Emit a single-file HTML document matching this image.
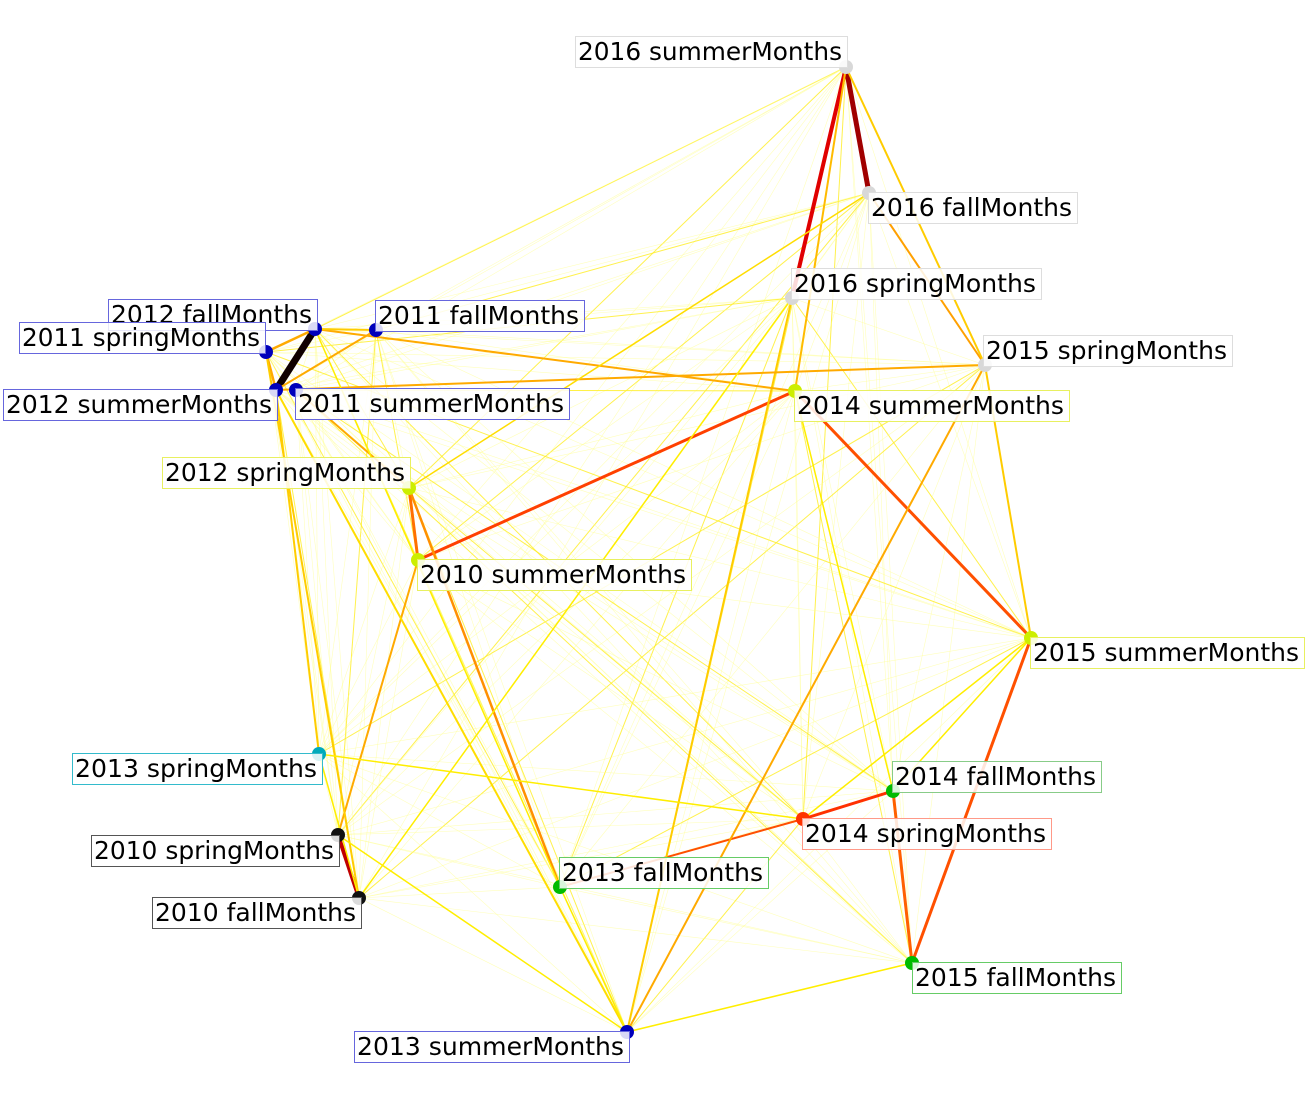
<!DOCTYPE html>
<html><head><meta charset="utf-8"><style>
html,body{margin:0;padding:0;background:#fff;}
svg{display:block;}
text{font-family:"DejaVu Sans","Liberation Sans",sans-serif;font-size:25px;fill:#000;}
</style></head><body>
<svg id="s" width="1307" height="1114" xmlns="http://www.w3.org/2000/svg">
<g id="thin"></g><g id="thick"></g><g id="nodes"></g><g id="labels"></g>
</svg>
<script>
var N={
s16:[846,67,'#d8d8d8','2016 summerMonths',575,36,272,'#ddd'],
f16:[869,193,'#d8d8d8','2016 fallMonths',868,192,209,'#ddd'],
p16:[792,298,'#d8d8d8','2016 springMonths',791,268,250,'#ddd'],
p15:[985,365,'#d8d8d8','2015 springMonths',983,335,249,'#ddd'],
s14:[795,391,'#ccee00','2014 summerMonths',794,390,275,'#e8f060'],
f12:[315,329,'#0000bb','2012 fallMonths',108,299,209,'#6666dd'],
f11:[376,330,'#0000bb','2011 fallMonths',375,300,209,'#6666dd'],
p11:[266,352,'#0000bb','2011 springMonths',19,322,246,'#6666dd'],
s12:[276,390,'#0000bb','2012 summerMonths',3,389,274,'#6666dd'],
s11:[296,390,'#0000bb','2011 summerMonths',295,388,274,'#6666dd'],
p12:[409,488,'#ccee00','2012 springMonths',162,457,248,'#e8f060'],
s10:[418,560,'#ccee00','2010 summerMonths',417,559,274,'#e8f060'],
s15:[1031,638,'#ccee00','2015 summerMonths',1030,637,274,'#e8f060'],
p13:[319,754,'#00aabb','2013 springMonths',72,753,250,'#33bbcc'],
f14:[893,791,'#00bb00','2014 fallMonths',892,761,209,'#88cc88'],
p14:[803,819,'#ff3300','2014 springMonths',802,818,249,'#ff9988'],
p10:[338,835,'#111','2010 springMonths',91,835,248,'#555'],
f13:[560,887,'#00bb00','2013 fallMonths',559,857,209,'#66cc66'],
f10:[359,898,'#111','2010 fallMonths',152,897,209,'#555'],
f15:[912,963,'#00bb00','2015 fallMonths',912,962,209,'#66cc66'],
s13:[627,1032,'#0000bb','2013 summerMonths',354,1031,275,'#6666dd']};
var ns='http://www.w3.org/2000/svg';
function el(t,a,p){var e=document.createElementNS(ns,t);for(var k in a)e.setAttribute(k,a[k]);document.getElementById(p).appendChild(e);return e;}
var keys=Object.keys(N);
for(var i=0;i<keys.length;i++)for(var j=i+1;j<keys.length;j++){
 var a=N[keys[i]],b=N[keys[j]];
 var strong=((i*7+j*3)%5==0);
 el('line',{x1:a[0],y1:a[1],x2:b[0],y2:b[1],stroke:strong?'#ffee20':'#ffff90','stroke-width':strong?1:0.6,'stroke-opacity':strong?0.8:0.6},'thin');
}
var T=[
['s16','f16','#a00000',5],['s16','p16','#e00000',4],['f12','s12','#100000',7],['p10','f10','#c00000',4],
['s14','s10','#ff4000',3],['s14','s15','#ff5000',3],['s15','f15','#ff5000',3],['p14','f14','#ff3000',3],
['p14','f13','#ff5000',2],['f14','f15','#ff6000',3],['p12','s10','#ff7000',3],['p12','f13','#ff9000',2.5],
['s10','p10','#ffaa00',2],['f16','p15','#ffa000',2],['s16','p15','#ffcc00',2],['s16','s14','#ffbb00',2],
['p15','s15','#ffcc00',2],['p15','s13','#ffaa00',2],['p16','s13','#ffcc00',2],['f12','s14','#ffaa00',2],
['s12','p15','#ffaa00',2],['f12','p11','#ffaa00',2.5],['p11','s12','#ffaa00',2.5],['f11','s12','#ffaa00',2],
['f12','f11','#ffcc00',2],['s11','p12','#ffaa00',2],['s12','p13','#ffcc00',2],['p11','f10','#ffcc00',2],
['s12','s13','#ffdd00',2],['f16','p12','#ffdd00',1.5],['p16','f10','#ffee00',1.5],['p13','p14','#ffee00',1.5],
['s14','f14','#ffee00',1.5],['s15','f14','#ffee00',1.5],['s13','f15','#ffee00',1.5],['p10','s13','#ffee00',1.5],
['f13','s13','#ffee00',1.5],['p13','f10','#ffee00',1.5],['f12','f13','#ffee00',1.5],['s15','p14','#ffee00',1.5]];
T.forEach(function(t){var a=N[t[0]],b=N[t[1]];el('line',{x1:a[0],y1:a[1],x2:b[0],y2:b[1],stroke:t[2],'stroke-width':t[3]},'thick');});
keys.forEach(function(k){var n=N[k];
 el('circle',{cx:n[0],cy:n[1],r:7,fill:n[2]},'nodes');
 el('rect',{x:n[4]+0.5,y:n[5]+0.5,width:n[6],height:31,fill:'#fff','fill-opacity':0.85,stroke:n[7],'stroke-width':1},'labels');
 var t=el('text',{x:n[4]+3,y:n[5]+24,textLength:n[6]-8,lengthAdjust:'spacingAndGlyphs'},'labels');t.textContent=n[3];
});
</script>
</body></html>
